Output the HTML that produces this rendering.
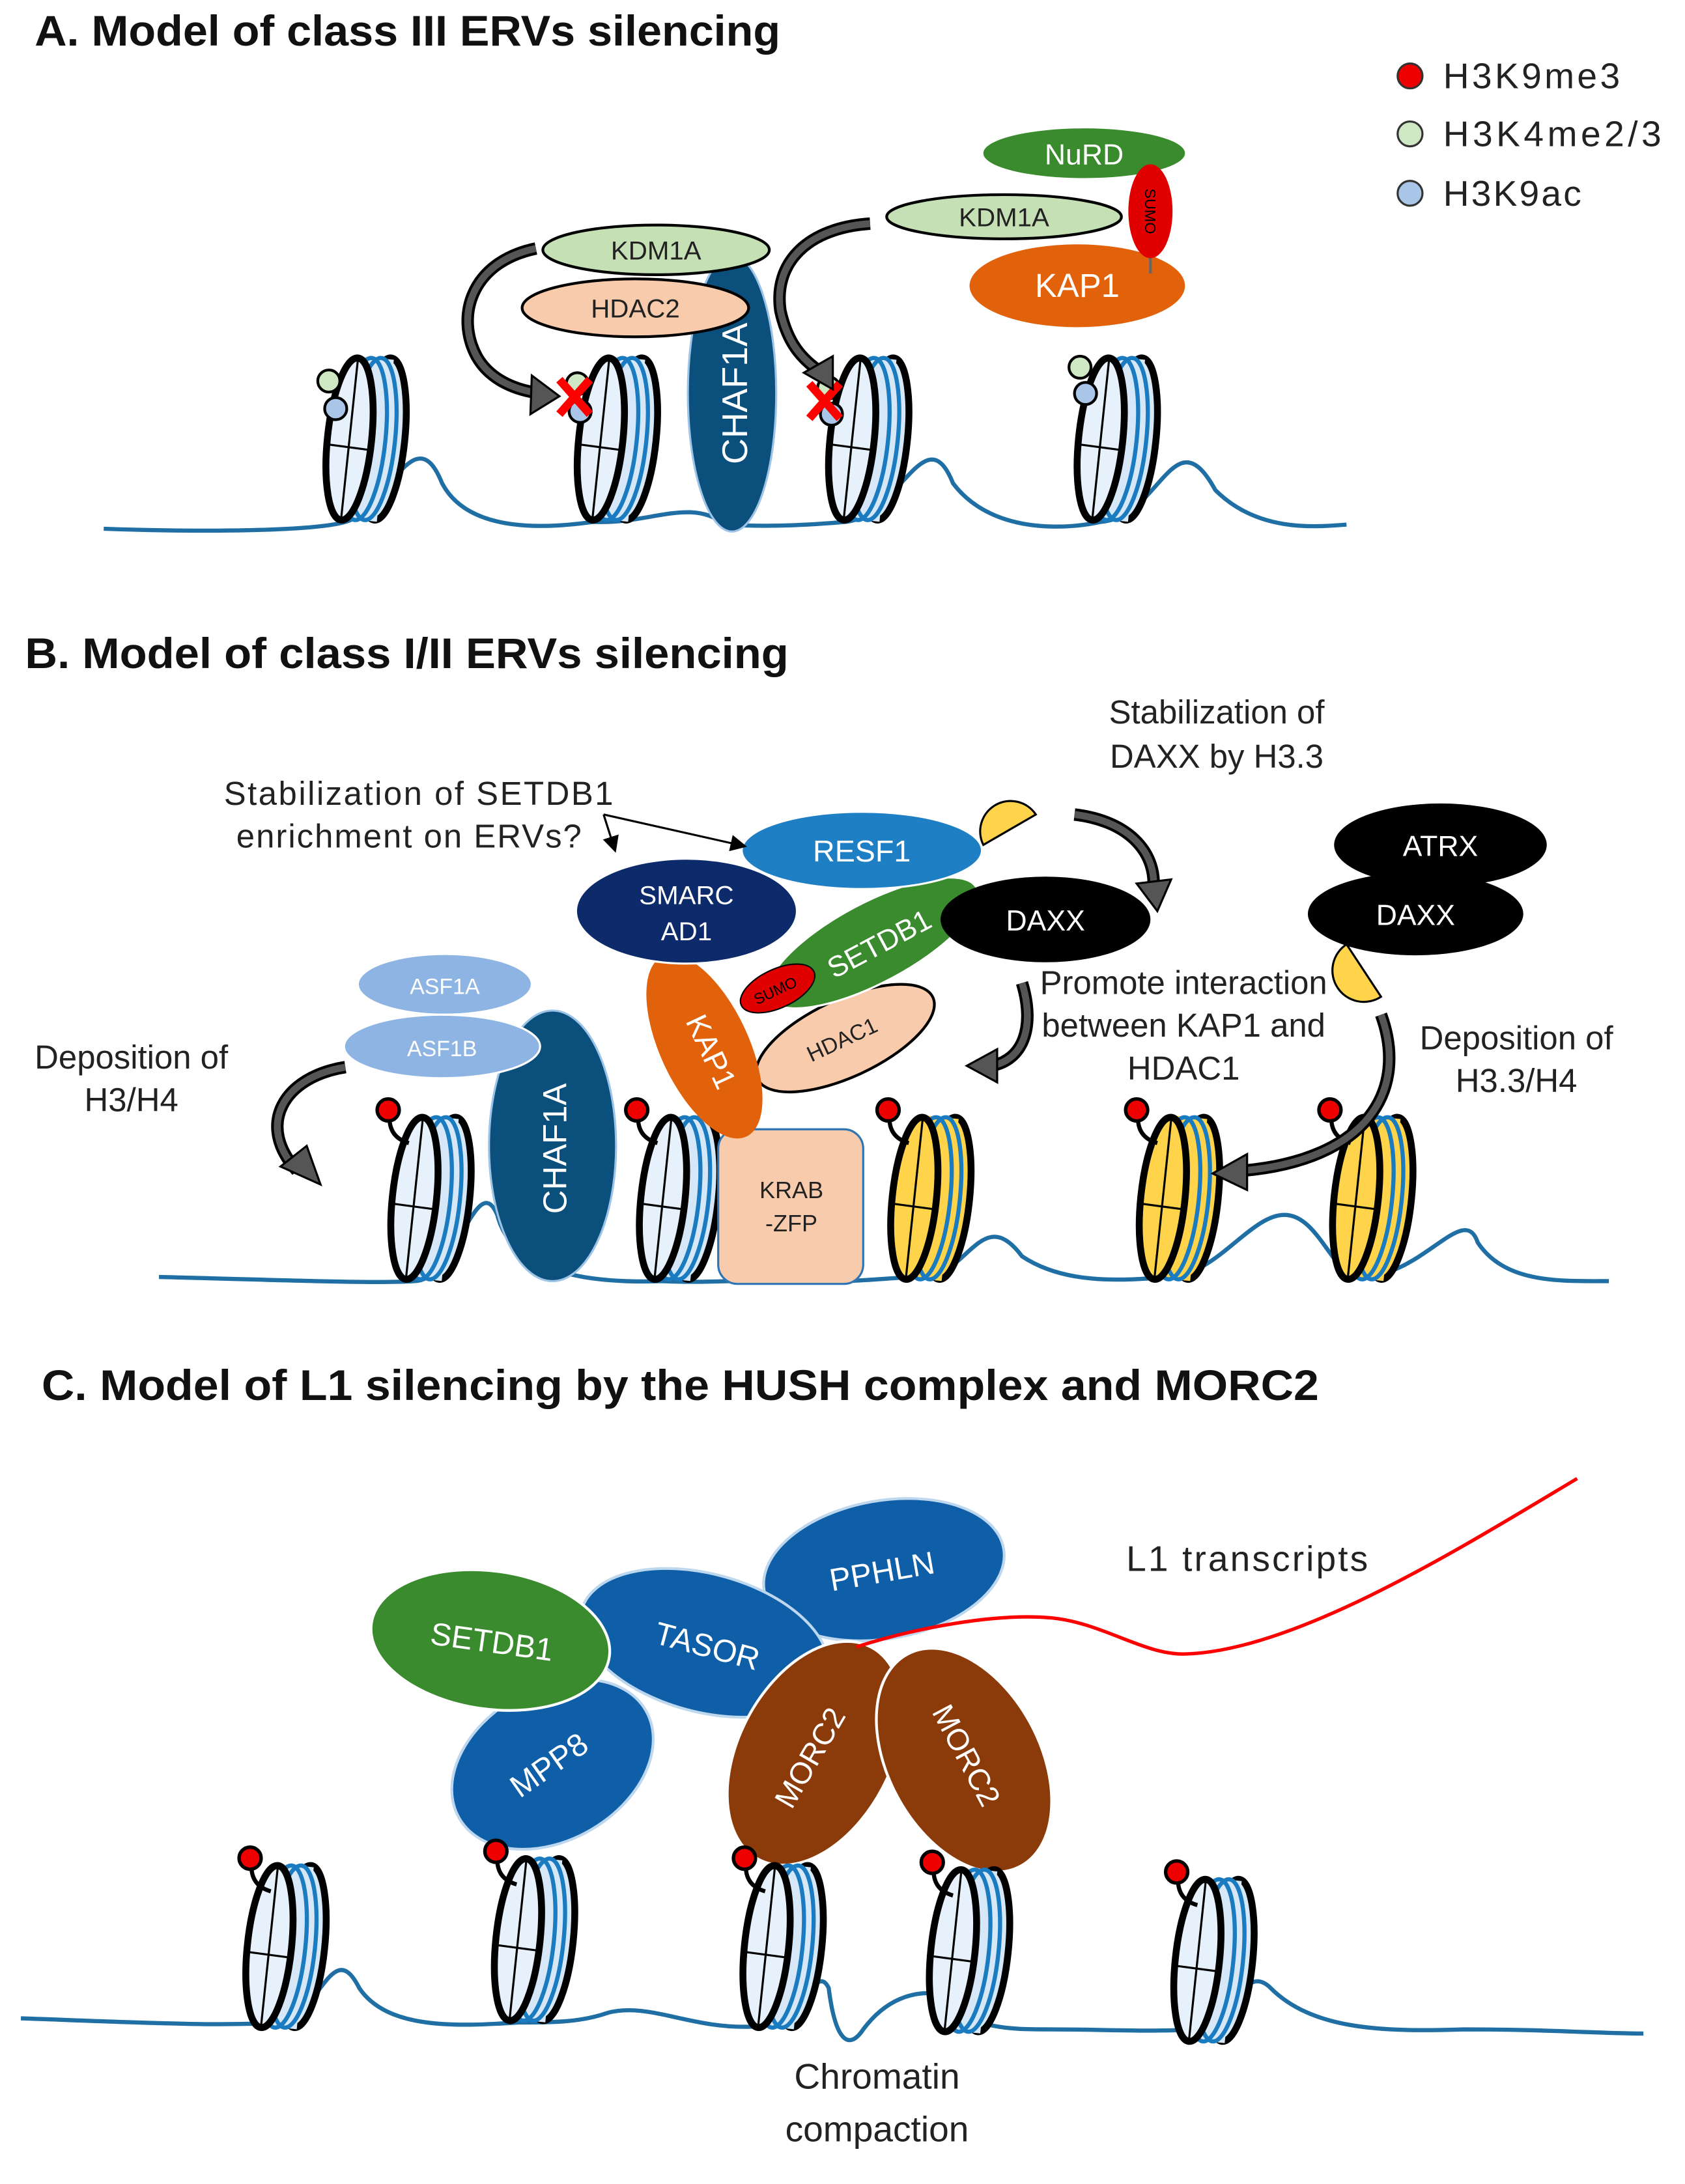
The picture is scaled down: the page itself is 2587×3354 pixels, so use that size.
<!DOCTYPE html>
<html><head><meta charset="utf-8"><style>
html,body{margin:0;padding:0;background:#fff}
svg{display:block}
text{font-family:"Liberation Sans",sans-serif}
.t{font-family:"Liberation Sans",sans-serif;font-weight:bold;font-size:31px;fill:#111}
.l{font-size:24px;fill:#222}
</style></head><body>
<svg width="2587" height="3354" viewBox="0 0 1220 1582" xmlns="http://www.w3.org/2000/svg">
<defs>
<g id="nuc">
  <ellipse cx="24" cy="0" rx="16" ry="59" fill="#d6e8f7" stroke="#000" stroke-width="5" transform="rotate(6 24 0)"/>
  <path d="M4,-59 L26,-59 L26,59 L4,59 Z" fill="#d6e8f7" transform="rotate(6 14 0)"/>
  <ellipse cx="10" cy="0" rx="16" ry="59" fill="none" stroke="#1a7bc0" stroke-width="3" transform="rotate(6 10 0)"/>
  <ellipse cx="17" cy="0" rx="16" ry="59" fill="none" stroke="#1a7bc0" stroke-width="3" transform="rotate(6 17 0)"/>
  <ellipse cx="0" cy="0" rx="16" ry="59" fill="#e6f1fb" stroke="#000" stroke-width="5" transform="rotate(6 0 0)"/>
  <line x1="6" y1="-57" x2="-6" y2="57" stroke="#000" stroke-width="1.5"/>
  <line x1="-15" y1="4" x2="15" y2="8" stroke="#000" stroke-width="1.5"/>
</g>
<g id="nucy">
  <ellipse cx="24" cy="0" rx="16" ry="59" fill="#ffd44a" stroke="#000" stroke-width="5" transform="rotate(6 24 0)"/>
  <path d="M4,-59 L26,-59 L26,59 L4,59 Z" fill="#ffd44a" transform="rotate(6 14 0)"/>
  <ellipse cx="10" cy="0" rx="16" ry="59" fill="none" stroke="#1a7bc0" stroke-width="3" transform="rotate(6 10 0)"/>
  <ellipse cx="17" cy="0" rx="16" ry="59" fill="none" stroke="#1a7bc0" stroke-width="3" transform="rotate(6 17 0)"/>
  <ellipse cx="0" cy="0" rx="16" ry="59" fill="#ffd44a" stroke="#000" stroke-width="5" transform="rotate(6 0 0)"/>
  <line x1="6" y1="-57" x2="-6" y2="57" stroke="#000" stroke-width="1.5"/>
  <line x1="-15" y1="4" x2="15" y2="8" stroke="#000" stroke-width="1.5"/>
</g>
<g id="mark">
  <path d="M-18,-58 q0,14 14,18" fill="none" stroke="#000" stroke-width="3"/>
  <ellipse cx="-19" cy="-64" rx="8" ry="8" fill="#e00" stroke="#000" stroke-width="2.5"/>
</g>
<marker id="ah" markerWidth="8" markerHeight="8" refX="4" refY="4" orient="auto"><path d="M0,0 L8,4 L0,8 Z" fill="#000"/></marker>
</defs>

<!-- ===== A ===== -->
<text x="25" y="33" class="t" textLength="540" lengthAdjust="spacingAndGlyphs">A. Model of class III ERVs silencing</text>
<circle cx="1021" cy="55" r="9" fill="#e00" stroke="#333" stroke-width="1.5"/>
<circle cx="1021" cy="97" r="9" fill="#cfe8c4" stroke="#333" stroke-width="1.5"/>
<circle cx="1021" cy="140" r="9" fill="#a9c6e8" stroke="#333" stroke-width="1.5"/>
<text x="1045" y="64" class="l" style="font-size:26px" textLength="128">H3K9me3</text>
<text x="1045" y="106" class="l" style="font-size:26px" textLength="158">H3K4me2/3</text>
<text x="1045" y="149" class="l" style="font-size:26px" textLength="100">H3K9ac</text>

<path d="M75,383 C160,386 230,384 250,378 C280,370 300,300 320,350 C340,388 400,382 430,378 C470,380 500,360 525,380 C560,382 590,380 612,378 C650,375 670,300 690,350 C720,390 780,382 797,378 C840,375 850,300 880,355 C910,385 950,382 975,380" fill="none" stroke="#1f6fa5" stroke-width="3"/>
<use href="#nuc" x="253" y="318"/>
<use href="#nuc" x="435" y="318"/>
<use href="#nuc" x="617" y="318"/>
<use href="#nuc" x="797" y="318"/>
<circle cx="238" cy="276" r="8" fill="#cfe8c4" stroke="#000" stroke-width="2"/>
<circle cx="243" cy="296" r="8" fill="#a9c6e8" stroke="#000" stroke-width="2"/>
<circle cx="782" cy="266" r="8" fill="#cfe8c4" stroke="#000" stroke-width="2"/>
<circle cx="786" cy="285" r="8" fill="#a9c6e8" stroke="#000" stroke-width="2"/>
<circle cx="418" cy="278" r="8" fill="#cfe8c4" stroke="#000" stroke-width="2"/>
<circle cx="420" cy="298" r="8" fill="#a9c6e8" stroke="#000" stroke-width="2"/>
<circle cx="600" cy="281" r="8" fill="#cfe8c4" stroke="#000" stroke-width="2"/>
<circle cx="602" cy="300" r="8" fill="#a9c6e8" stroke="#000" stroke-width="2"/>
<path d="M405,275 L427,300 M427,275 L405,300" stroke="#f00" stroke-width="6"/>
<path d="M586,278 L608,303 M608,278 L586,303" stroke="#f00" stroke-width="6"/>

<ellipse cx="530" cy="285" rx="32" ry="100" fill="#0b4f7c" stroke="#9dc3e6" stroke-width="1.5"/>
<text transform="translate(541,285) rotate(-90)" text-anchor="middle" style="font-size:26px;fill:#fff">CHAF1A</text>
<ellipse cx="475" cy="181" rx="82" ry="18" fill="#c5e0b4" stroke="#000" stroke-width="2"/>
<text x="475" y="188" text-anchor="middle" class="l" style="font-size:19px">KDM1A</text>
<ellipse cx="460" cy="223" rx="82" ry="21" fill="#f8cbad" stroke="#000" stroke-width="2"/>
<text x="460" y="230" text-anchor="middle" class="l" style="font-size:19px">HDAC2</text>
<path d="M388,180 C340,190 330,230 345,258 C355,276 375,283 392,285" fill="none" stroke="#000" stroke-width="9"/>
<path d="M388,180 C340,190 330,230 345,258 C355,276 375,283 392,285" fill="none" stroke="#555" stroke-width="5"/>
<path d="M385,272 L405,287 L384,300 Z" fill="#555" stroke="#000" stroke-width="1.5"/>
<path d="M630,162 C585,165 560,190 565,225 C570,248 580,260 595,270" fill="none" stroke="#000" stroke-width="9"/>
<path d="M630,162 C585,165 560,190 565,225 C570,248 580,260 595,270" fill="none" stroke="#555" stroke-width="5"/>
<path d="M582,270 L603,282 L603,258 Z" fill="#555" stroke="#000" stroke-width="1.5"/>

<ellipse cx="785" cy="111" rx="73" ry="18" fill="#3a8a2e"/>
<text x="785" y="119" text-anchor="middle" style="font-size:21px;fill:#fff">NuRD</text>
<ellipse cx="727" cy="157" rx="85" ry="16" fill="#c5e0b4" stroke="#000" stroke-width="2"/>
<text x="727" y="164" text-anchor="middle" class="l" style="font-size:19px">KDM1A</text>
<ellipse cx="780" cy="207" rx="78" ry="30" fill="#e2620b"/>
<text x="780" y="215" text-anchor="middle" style="font-size:24px;fill:#fff">KAP1</text>
<line x1="833" y1="185" x2="833" y2="198" stroke="#666" stroke-width="2"/>
<ellipse cx="833" cy="153" rx="16" ry="34" fill="#e00000"/>
<text transform="translate(829,153) rotate(90)" text-anchor="middle" style="font-size:11px;fill:#000">SUMO</text>

<!-- ===== B ===== -->
<text x="18" y="484" class="t" textLength="553" lengthAdjust="spacingAndGlyphs">B. Model of class I/II ERVs silencing</text>
<path d="M115,925 C200,927 270,930 300,928 C330,928 345,845 360,880 C370,920 420,930 480,928 C520,930 560,925 600,928 C630,928 650,925 665,925 C700,928 710,870 740,910 C770,930 810,928 845,925 C880,925 905,880 930,880 C955,880 965,925 985,925 C1030,925 1060,870 1070,900 C1090,930 1130,928 1165,928" fill="none" stroke="#1f6fa5" stroke-width="3"/>
<use href="#nuc" x="300" y="868"/>
<use href="#nuc" x="480" y="868"/>
<use href="#nucy" x="662" y="868"/>
<use href="#nucy" x="842" y="868"/>
<use href="#nucy" x="982" y="868"/>
<use href="#mark" x="300" y="868"/>
<use href="#mark" x="480" y="868"/>
<use href="#mark" x="662" y="868"/>
<use href="#mark" x="842" y="868"/>
<use href="#mark" x="982" y="868"/>

<rect x="520" y="818" width="105" height="112" rx="14" fill="#f8cbad" stroke="#2e75b6" stroke-width="1.5"/>
<text x="573" y="868" text-anchor="middle" class="l" style="font-size:17px">KRAB</text>
<text x="573" y="892" text-anchor="middle" class="l" style="font-size:17px">-ZFP</text>
<ellipse cx="400" cy="830" rx="46" ry="98" fill="#0b4f7c" stroke="#9dc3e6" stroke-width="1.5"/>
<text transform="translate(410,832) rotate(-90)" text-anchor="middle" style="font-size:24px;fill:#fff">CHAF1A</text>
<ellipse cx="322" cy="713" rx="63" ry="22" fill="#8eb4e3" stroke="#fff" stroke-width="1.5"/>
<text x="322" y="720" text-anchor="middle" style="font-size:16px;fill:#fff">ASF1A</text>
<ellipse cx="320" cy="758" rx="71" ry="23" fill="#8eb4e3" stroke="#fff" stroke-width="1.5"/>
<text x="320" y="765" text-anchor="middle" style="font-size:16px;fill:#fff">ASF1B</text>

<ellipse cx="612" cy="752" rx="70" ry="28" fill="#f8cbad" stroke="#000" stroke-width="2" transform="rotate(-25 612 752)"/>
<text transform="translate(612,758) rotate(-25)" text-anchor="middle" class="l" style="font-size:16px">HDAC1</text>
<ellipse cx="510" cy="758" rx="32" ry="72" fill="#e2620b" transform="rotate(-25 510 758)"/>
<text transform="translate(508,765) rotate(65)" text-anchor="middle" style="font-size:22px;fill:#fff">KAP1</text>
<ellipse cx="632" cy="683" rx="85" ry="29" fill="#3a8a2e" stroke="#fff" stroke-width="1.5" transform="rotate(-28 632 683)"/>
<text transform="translate(640,690) rotate(-28)" text-anchor="middle" style="font-size:21px;fill:#fff">SETDB1</text>
<ellipse cx="563" cy="716" rx="29" ry="14" fill="#e00000" stroke="#000" stroke-width="1" transform="rotate(-25 563 716)"/>
<text transform="translate(563,721) rotate(-25)" text-anchor="middle" style="font-size:11px;fill:#000">SUMO</text>
<ellipse cx="497" cy="660" rx="80" ry="38" fill="#0d2a6b" stroke="#fff" stroke-width="1.5"/>
<text x="497" y="655" text-anchor="middle" style="font-size:19px;fill:#fff">SMARC</text>
<text x="497" y="681" text-anchor="middle" style="font-size:19px;fill:#fff">AD1</text>
<ellipse cx="624" cy="616" rx="87" ry="28" fill="#1f7fc4" stroke="#fff" stroke-width="1.5"/>
<text x="624" y="624" text-anchor="middle" style="font-size:22px;fill:#fff">RESF1</text>
<path d="M712,612 A22,22 0 0 1 750,590 Z" fill="#ffd44a" stroke="#000" stroke-width="1.5"/>
<ellipse cx="757" cy="666" rx="76" ry="31" fill="#000"/>
<text x="757" y="674" text-anchor="middle" style="font-size:21px;fill:#fff">DAXX</text>
<ellipse cx="1043" cy="612" rx="77" ry="30" fill="#000"/>
<text x="1043" y="620" text-anchor="middle" style="font-size:21px;fill:#fff">ATRX</text>
<ellipse cx="1025" cy="662" rx="78" ry="30" fill="#000"/>
<text x="1025" y="670" text-anchor="middle" style="font-size:21px;fill:#fff">DAXX</text>
<path d="M975,684 A22,22 0 0 0 1000,722 Z" fill="#ffd44a" stroke="#000" stroke-width="1.5"/>

<text x="303" y="583" text-anchor="middle" class="l" textLength="282">Stabilization of SETDB1</text>
<text x="296" y="614" text-anchor="middle" class="l" textLength="250">enrichment on ERVs?</text>
<line x1="437" y1="590" x2="535" y2="612" stroke="#000" stroke-width="1.5" marker-end="url(#ah)"/>
<line x1="437" y1="590" x2="444" y2="612" stroke="#000" stroke-width="1.5" marker-end="url(#ah)"/>
<text x="881" y="524" text-anchor="middle" class="l">Stabilization of</text>
<text x="881" y="556" text-anchor="middle" class="l">DAXX by H3.3</text>
<text x="857" y="720" text-anchor="middle" class="l">Promote interaction</text>
<text x="857" y="751" text-anchor="middle" class="l">between KAP1 and</text>
<text x="857" y="782" text-anchor="middle" class="l">HDAC1</text>
<text x="95" y="774" text-anchor="middle" class="l">Deposition of</text>
<text x="95" y="805" text-anchor="middle" class="l">H3/H4</text>
<text x="1098" y="760" text-anchor="middle" class="l">Deposition of</text>
<text x="1098" y="791" text-anchor="middle" class="l">H3.3/H4</text>

<g fill="none" stroke-linecap="butt">
<path d="M250,773 C205,780 185,815 215,848" stroke="#000" stroke-width="9"/>
<path d="M250,773 C205,780 185,815 215,848" stroke="#555" stroke-width="5"/>
<path d="M778,590 C820,595 838,620 835,645" stroke="#000" stroke-width="9"/>
<path d="M778,590 C820,595 838,620 835,645" stroke="#555" stroke-width="5"/>
<path d="M740,712 C750,745 740,768 718,772" stroke="#000" stroke-width="9"/>
<path d="M740,712 C750,745 740,768 718,772" stroke="#555" stroke-width="5"/>
<path d="M1000,735 C1020,790 990,840 900,848" stroke="#000" stroke-width="9"/>
<path d="M1000,735 C1020,790 990,840 900,848" stroke="#555" stroke-width="5"/>
</g>
<path d="M203,845 L232,858 L222,830 Z" fill="#555" stroke="#000" stroke-width="1.5"/>
<path d="M823,640 L838,660 L848,637 Z" fill="#555" stroke="#000" stroke-width="1.5"/>
<path d="M722,760 L700,772 L722,784 Z" fill="#555" stroke="#000" stroke-width="1.5"/>
<path d="M903,836 L878,850 L903,862 Z" fill="#555" stroke="#000" stroke-width="1.5"/>

<!-- ===== C ===== -->
<text x="30" y="1014" class="t" textLength="925" lengthAdjust="spacingAndGlyphs">C. Model of L1 silencing by the HUSH complex and MORC2</text>
<path d="M15,1462 C100,1465 160,1468 200,1465 C230,1465 240,1400 260,1440 C280,1470 330,1468 375,1465 C400,1465 420,1465 440,1458 C470,1450 500,1470 545,1468 C580,1468 590,1420 600,1440 C605,1480 615,1485 625,1470 C640,1450 660,1440 685,1445 C700,1470 730,1470 760,1470 C800,1470 830,1472 865,1470 C890,1468 900,1420 920,1440 C950,1470 1000,1472 1060,1470 C1120,1470 1160,1473 1190,1473" fill="none" stroke="#1f6fa5" stroke-width="3"/>

<ellipse cx="640" cy="1137" rx="88" ry="50" fill="#0f5ea8" stroke="#bdd7ee" stroke-width="2" transform="rotate(-10 640 1137)"/>
<text transform="translate(640,1146) rotate(-10)" text-anchor="middle" style="font-size:23px;fill:#fff">PPHLN</text>
<ellipse cx="510" cy="1190" rx="92" ry="50" fill="#0f5ea8" stroke="#bdd7ee" stroke-width="2" transform="rotate(15 510 1190)"/>
<text transform="translate(510,1200) rotate(15)" text-anchor="middle" style="font-size:23px;fill:#fff">TASOR</text>
<ellipse cx="400" cy="1278" rx="78" ry="55" fill="#0f5ea8" stroke="#bdd7ee" stroke-width="2" transform="rotate(-30 400 1278)"/>
<text transform="translate(402,1285) rotate(-35)" text-anchor="middle" style="font-size:23px;fill:#fff">MPP8</text>
<ellipse cx="355" cy="1188" rx="87" ry="50" fill="#3a8a2e" stroke="#fff" stroke-width="2" transform="rotate(8 355 1188)"/>
<text transform="translate(355,1197) rotate(8)" text-anchor="middle" style="font-size:23px;fill:#fff">SETDB1</text>
<ellipse cx="590" cy="1270" rx="55" ry="87" fill="#8b3a0a" stroke="#fff" stroke-width="2" transform="rotate(28 590 1270)"/>
<text transform="translate(593,1277) rotate(-60)" text-anchor="middle" style="font-size:22px;fill:#fff">MORC2</text>
<ellipse cx="698" cy="1275" rx="55" ry="87" fill="#8b3a0a" stroke="#fff" stroke-width="2" transform="rotate(-28 698 1275)"/>
<text transform="translate(693,1275) rotate(62)" text-anchor="middle" style="font-size:22px;fill:#fff">MORC2</text>

<use href="#nuc" x="195" y="1410"/>
<use href="#nuc" x="375" y="1405"/>
<use href="#nuc" x="555" y="1410"/>
<use href="#nuc" x="690" y="1413"/>
<use href="#nuc" x="867" y="1420"/>
<use href="#mark" x="200" y="1410"/>
<use href="#mark" x="378" y="1405"/>
<use href="#mark" x="558" y="1410"/>
<use href="#mark" x="694" y="1413"/>
<use href="#mark" x="871" y="1420"/>

<path d="M620,1193 C660,1180 720,1168 762,1172 C800,1176 830,1200 860,1198 C940,1195 1060,1120 1142,1071" fill="none" stroke="#f00" stroke-width="2.5"/>
<text x="903" y="1138" text-anchor="middle" class="l" style="font-size:26px" textLength="175">L1 transcripts</text>
<text x="635" y="1513" text-anchor="middle" class="l" style="font-size:26px">Chromatin</text>
<text x="635" y="1551" text-anchor="middle" class="l" style="font-size:26px">compaction</text>
</svg>
</body></html>
